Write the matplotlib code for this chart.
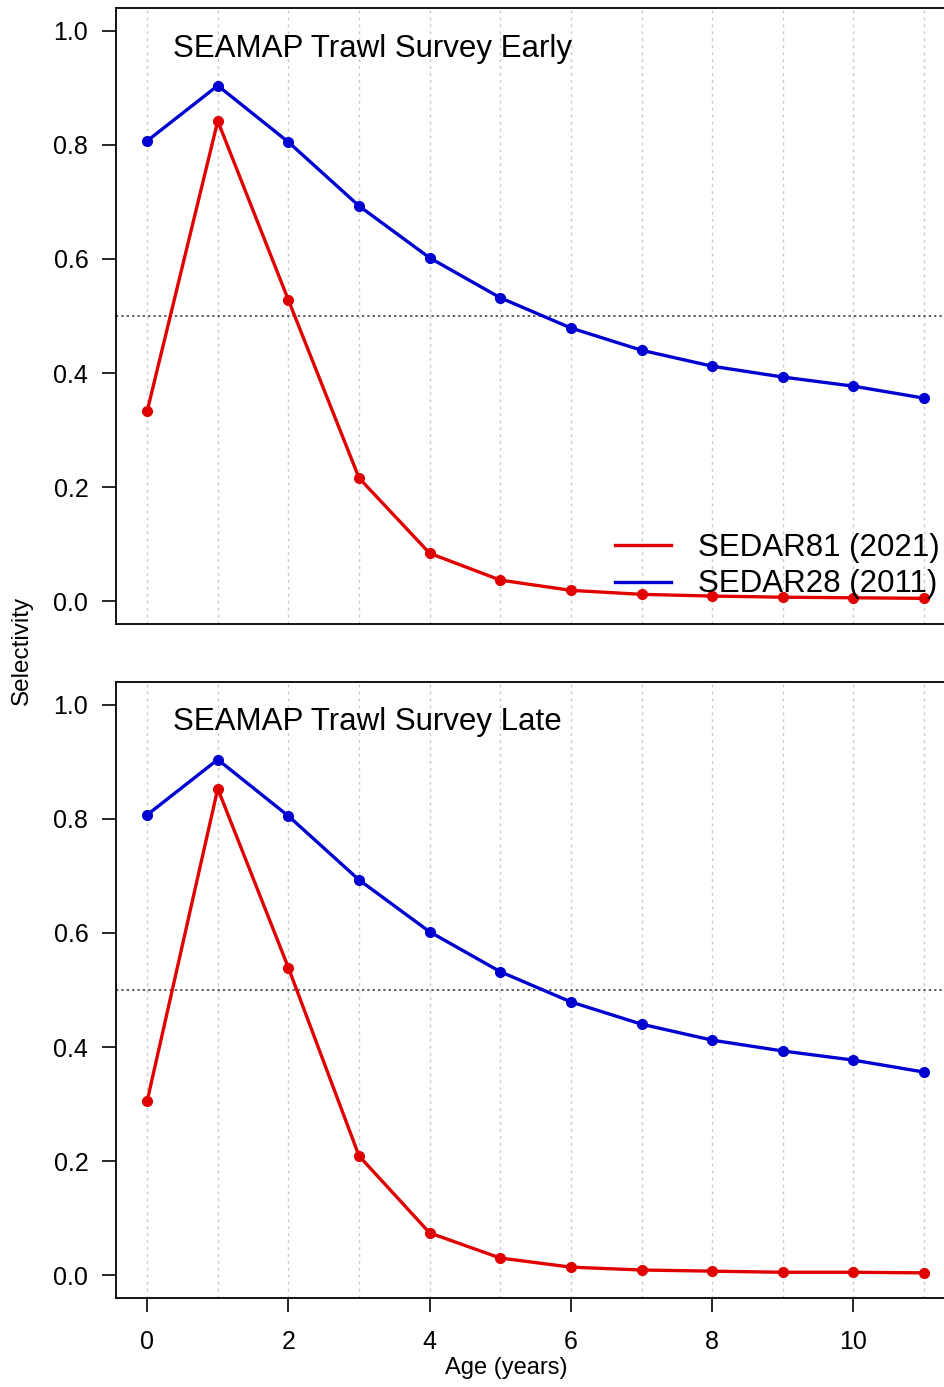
#Selectivity comparison, two SEAMAP trawl survey panels
import matplotlib.pyplot as plt
from matplotlib.lines import Line2D

plt.rcParams['font.family'] = ['Liberation Sans', 'DejaVu Sans']

#Data
ages = [0, 1, 2, 3, 4, 5, 6, 7, 8, 9, 10, 11]
sedar28 = [0.807, 0.904, 0.805, 0.693, 0.602, 0.532, 0.479, 0.440, 0.412, 0.393, 0.377, 0.356]
sedar81_early = [0.333, 0.842, 0.528, 0.216, 0.084, 0.037, 0.019, 0.012, 0.009, 0.007, 0.006, 0.005]
sedar81_late = [0.305, 0.853, 0.539, 0.209, 0.074, 0.030, 0.014, 0.009, 0.007, 0.005, 0.005, 0.004]
titles = ['SEAMAP Trawl Survey Early', 'SEAMAP Trawl Survey Late']
series_names = ['SEDAR81 (2021)', 'SEDAR28 (2011)']
yticks = [0.0, 0.2, 0.4, 0.6, 0.8, 1.0]
xticks = [0, 2, 4, 6, 8, 10]

red = '#e00000'
blue = '#0000d0'

fig = plt.figure(figsize=(9.45, 13.87), dpi=100)
ax1 = fig.add_axes([0.1228, 0.5501, 0.888, 0.4441])
ax2 = fig.add_axes([0.1228, 0.0642, 0.888, 0.4441])

for ax, red_vals, title in zip([ax1, ax2], [sedar81_early, sedar81_late], titles):
    for a in ages:
        ax.axvline(a, color='#c8c8c8', linestyle=(0, (2, 3)), linewidth=1, zorder=0)
    ax.axhline(0.5, color='#333333', linestyle=(0, (1.5, 2)), linewidth=1.1, zorder=1)
    ax.plot(ages, red_vals, color=red, linewidth=2.4, marker='o', markersize=7, zorder=3)
    ax.plot(ages, sedar28, color=blue, linewidth=2.4, marker='o', markersize=7, zorder=2)
    ax.set_xlim(-0.44, 11.44)
    ax.set_ylim(-0.04, 1.04)
    ax.set_yticks(yticks)
    ax.set_yticklabels(['%.1f' % v for v in yticks])
    ax.tick_params(axis='y', labelsize=18, length=10, width=1.2, pad=10)
    ax.text(0.37, 0.969, title, fontsize=22.5, va='center', ha='left')
    for s in ax.spines.values():
        s.set_linewidth(1.3)
    ax.spines['right'].set_visible(False) #right edge is cut off in the original

ax1.set_xticks([])
ax2.set_xticks(xticks)
ax2.tick_params(axis='x', labelsize=18, length=10, width=1.2, pad=13)

#Legend in the top panel, lines only, no frame
handles = [Line2D([], [], color=red, linewidth=2.4), Line2D([], [], color=blue, linewidth=2.4)]
ax1.legend(handles, series_names, loc='upper left', bbox_to_anchor=(0.651, 0.616),
           bbox_transform=fig.transFigure, frameon=False, fontsize=22.5,
           handlelength=1.8, handletextpad=0.85, labelspacing=0.22,
           borderpad=0, borderaxespad=0)

fig.text(506 / 945, 0.0135, 'Age (years)', fontsize=17, ha='center', va='center')
fig.text(0.023, 0.5307, 'Selectivity', rotation=90, fontsize=17.5, ha='center', va='center')

fig.savefig('out.png', dpi=100)
